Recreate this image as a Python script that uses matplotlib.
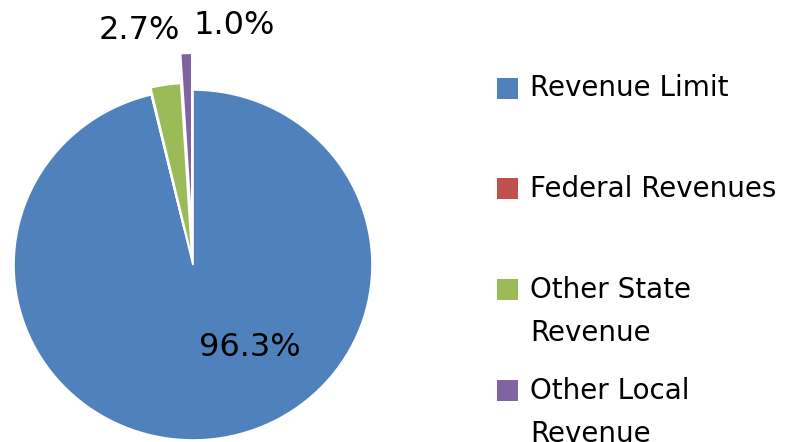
import matplotlib.pyplot as plt
from matplotlib.patches import Rectangle

categorias = ["Revenue Limit", "Federal Revenues", "Other State\nRevenue", "Other Local\nRevenue"]
valores = [96.3, 0.05, 2.7, 1.0]
rotulos = ["96.3%", "", "2.7%", "1.0%"]
cores = ["#4F81BD", "#C0504D", "#9BBB59", "#8064A2"]
explode = [0.0, 0.21, 0.04, 0.21]

W, H = 785, 442
fig = plt.figure(figsize=(W / 100, H / 100), dpi=100)

# pie area (pixels): center (193, 265), rx 179, ry 175
cx, cy, rx, ry = 193, 265, 179, 175
lim = 1.3
ax = fig.add_axes([(cx - lim * rx) / W, (H - cy - lim * ry) / H,
                   2 * lim * rx / W, 2 * lim * ry / H])
ax.pie(valores, colors=cores, startangle=90, counterclock=False,
       explode=explode, wedgeprops=dict(edgecolor="white", linewidth=1.2))
ax.set_aspect("auto")
ax.set_xlim(-lim, lim)
ax.set_ylim(-lim, lim)
ax.axis("off")

# posições dos rótulos (como no original)
pos_rotulos = [(0.32, -0.47), None, (-0.30, 1.34), (0.23, 1.37)]
for txt, p in zip(rotulos, pos_rotulos):
    if p is None:
        continue
    ax.text(p[0], p[1], txt, ha="center", va="center", fontsize=23,
            color="black", clip_on=False)

# legenda manual
passo = 100.7
for i, (lab, cor) in enumerate(zip(categorias, cores)):
    yc = 88 + i * passo
    fig.patches.append(Rectangle((497 / W, 1 - (yc + 10.5) / H), 21 / W, 21 / H,
                                 transform=fig.transFigure, facecolor=cor,
                                 edgecolor="none"))
    for j, linha in enumerate(lab.split("\n")):
        fig.text(530 / W, 1 - (yc + 8.5 + j * 43) / H, linha, fontsize=20,
                 va="baseline", ha="left", color="black")

fig.savefig("out.png", dpi=100)
